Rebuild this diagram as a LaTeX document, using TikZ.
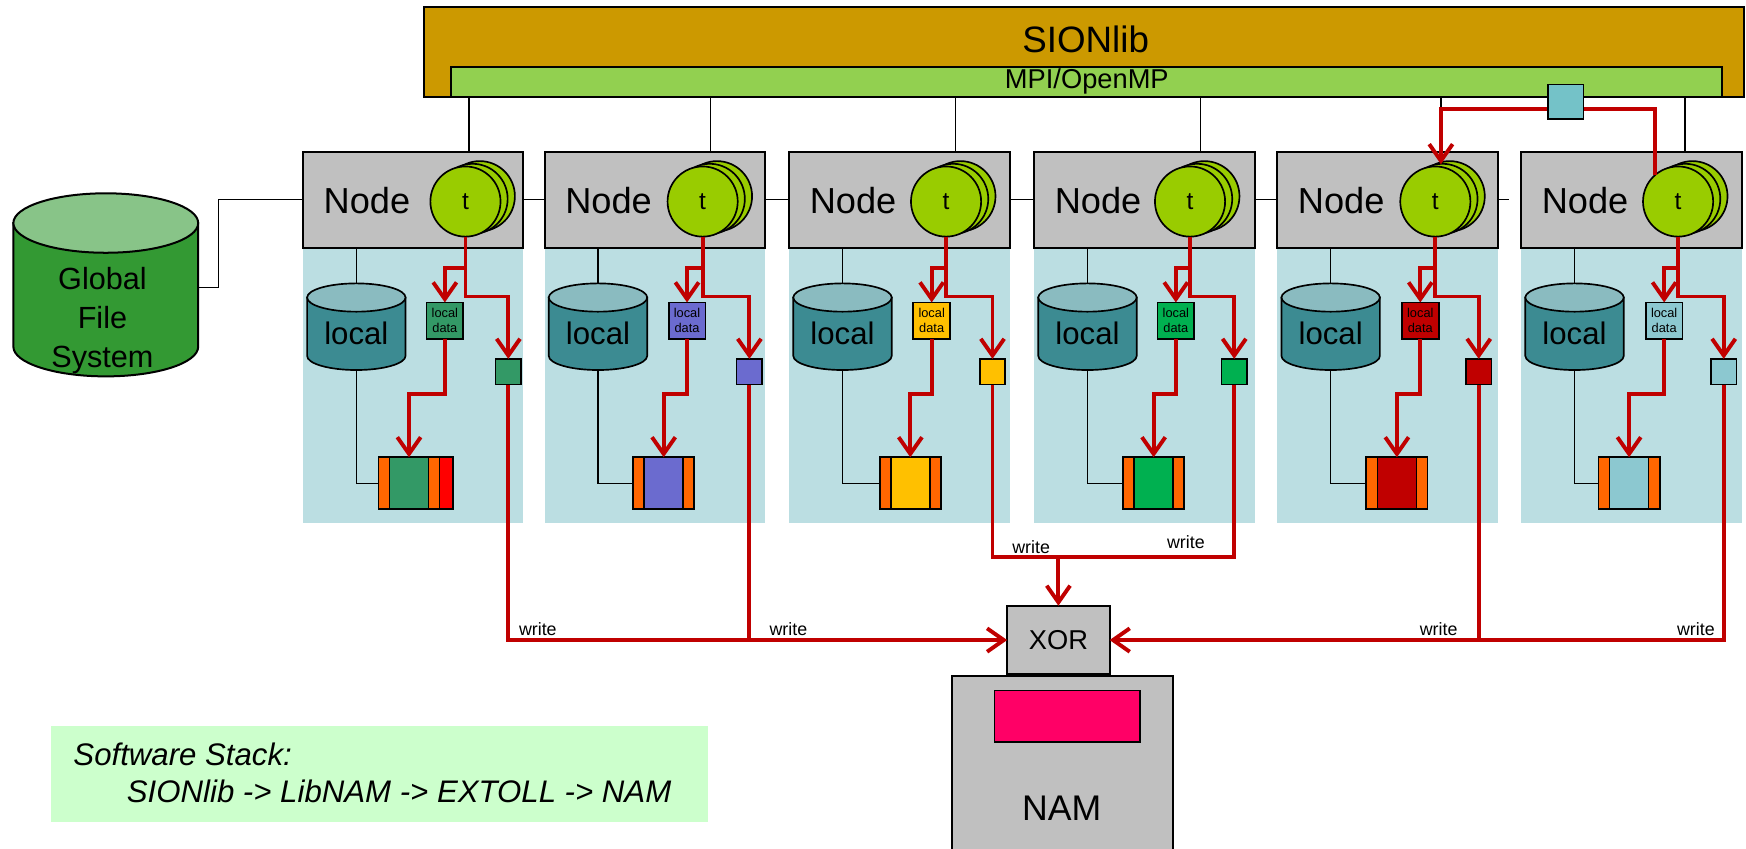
\documentclass[tikz,border=0pt]{standalone}
\usepackage{fontspec}
\setmainfont{Liberation Sans}
\usetikzlibrary{arrows.meta,calc}
\definecolor{sion}{HTML}{CC9900}
\definecolor{mpi}{HTML}{92D050}
\definecolor{nodegray}{HTML}{C0C0C0}
\definecolor{thread}{HTML}{99CC00}
\definecolor{panel}{HTML}{BBDEE2}
\definecolor{lbody}{HTML}{3C8B92}
\definecolor{ltop}{HTML}{8ABBC0}
\definecolor{gbody}{HTML}{339933}
\definecolor{gtop}{HTML}{88C488}
\definecolor{redl}{HTML}{C00000}
\definecolor{strip}{HTML}{FF6600}
\definecolor{pinkc}{HTML}{FF0066}
\definecolor{stackbg}{HTML}{CCFFCC}
\definecolor{cyanbox}{HTML}{74C2C8}
\definecolor{dc1}{HTML}{339966}
\definecolor{dc2}{HTML}{6B6BCF}
\definecolor{dc3}{HTML}{FFC000}
\definecolor{dc4}{HTML}{00B050}
\definecolor{dc5}{HTML}{C00000}
\definecolor{dc6}{HTML}{8CC8D0}
\begin{document}
\begin{tikzpicture}[x=1pt,y=-1pt,
  box/.style={draw=black,line width=1.8pt,inner sep=0pt,outer sep=0pt},
  sbox/.style={draw=black,line width=1.5pt,inner sep=0pt,outer sep=0pt},
  conn/.style={draw=black,line width=1.3pt},
  redline/.style={draw=redl,line width=3.5pt},
  redarrow/.style={redline,-{Straight Barb[length=15pt,width=21pt]}},
  thr/.style={circle,draw=black,line width=1.5pt,fill=thread,minimum size=63pt,inner sep=0pt,outer sep=0pt},
  txt/.style={inner sep=0pt,outer sep=0pt},
  wlab/.style={txt,font=\fontsize{16}{16}\selectfont}]
\useasboundingbox (0,0) rectangle (1568,762);

% top stack
\node[box,fill=sion,minimum width=1185pt,minimum height=81pt,anchor=north west] (sion) at (381,6) {};
\node[txt,font=\fontsize{33}{33}\selectfont] (sionl) at (975,35) {SIONlib};
\node[box,fill=mpi,minimum width=1141pt,minimum height=27pt,anchor=north west] (mpi) at (405,60) {};
\node[txt,font=\fontsize{24.5}{24.5}\selectfont] (mpil) at (976,73.5) {MPI/OpenMP};

% global file system
\draw[line width=1.8pt,fill=gbody] (12,200.3) -- (12,311.3) arc[start angle=180,end angle=0,x radius=83,y radius=26.7] -- (178,200.3) -- cycle;
\draw[line width=1.8pt,fill=gtop] (95,200.3) ellipse[x radius=83,y radius=26.7];
\node[txt,minimum width=166pt,minimum height=160pt] (gfs) at (95,258) {};
\node[txt,align=center,font=\fontsize{27.5}{35}\selectfont] (gfsl) at (92,288) {Global\\File\\System};

\foreach \i/\xo/\cx/\sx/\lx/\bx/\mx in {
  1/272/418/456.5/399.5/367.3/421,
  2/489/631/673/617/596/638,
  3/708.6/849.6/891.3/836.7/817.5/858,
  4/928.6/1068.7/1108.4/1056/1036/1078,
  5/1147/1289/1328/1275.5/1254.5/1294,
  6/1366/1507/1548/1494.5/1463/1513}{
  % panel
  \node[txt,fill=panel,minimum width=198pt,minimum height=246.7pt,anchor=north west] (p\i) at (\xo,222.7) {};
  % node box
  \node[box,fill=nodegray,minimum width=198pt,minimum height=86pt] (n\i) at (\xo+99,179.3) {};
  \coordinate (mx\i) at (\mx,0);
  \draw[conn] (mpi.south -| mx\i) -- (n\i.north -| mx\i);
  \node[txt,font=\fontsize{32.5}{32.5}\selectfont] (nl\i) at (\xo+57.5,180.5) {Node};
  % threads
  \node[thr] (tb\i) at (\cx+12.9,181-4.8) {};
  \node[thr] (tm\i) at (\cx+6.4,181-2.4) {};
  \node[thr,font=\fontsize{22}{22}\selectfont] (t\i) at (\cx,181) {t};
  % local disk
  \draw[line width=1.5pt,fill=lbody] (\xo+3.8,267.2) -- (\xo+3.8,319.6) arc[start angle=180,end angle=0,x radius=44.2,y radius=12.7] -- (\xo+92.2,267.2) -- cycle;
  \draw[line width=1.5pt,fill=ltop] (\xo+48,267.2) ellipse[x radius=44.2,y radius=12.7];
  \node[txt,minimum width=88.4pt,minimum height=77.8pt] (c\i) at (\xo+48,293.4) {};
  \node[txt,font=\fontsize{28}{28}\selectfont] (cl\i) at (\xo+48,299) {local};
  % local data, small box, buffer
  \node[sbox,fill=dc\i,minimum size=33pt,align=center,font=\fontsize{11.5}{13.5}\selectfont] (l\i) at (\lx,288.1) {local\\data};
  \node[sbox,fill=dc\i,minimum size=23pt] (s\i) at (\sx,333.8) {};
  \node[sbox,fill=dc\i,minimum width=35pt,minimum height=46.7pt] (b\i) at (\bx,434) {};
  \node[sbox,fill=strip,minimum width=10pt,minimum height=46.7pt,anchor=east] (bl\i) at (b\i.west) {};
  \node[sbox,fill=strip,minimum width=10pt,minimum height=46.7pt,anchor=west] (br\i) at (b\i.east) {};
  % gray connectors
  \draw[conn] (n\i.south -| c\i.north) -- (c\i.north);
  \draw[conn] (c\i.south) |- (bl\i.west);
  % red flows
  \draw[redarrow] (t\i.south) |- ($(s\i.north)+(0,-56)$) -- (s\i.north);
  \draw[redarrow] ($(t\i.south)+(0,28.5)$) -| (l\i.north);
  \draw[redarrow] (l\i.south) -- ++(0,49) -| (b\i.north);
}
\node[sbox,fill=red,minimum width=12pt,minimum height=46.7pt,anchor=west] (brr1) at (br1.east) {};

% links between nodes
\draw[conn] (gfs.east) -- ++(18,0) |- (n1.west);
\draw[conn] (n1.east) -- (n2.west);
\draw[conn] (n2.east) -- (n3.west);
\draw[conn] (n3.east) -- (n4.west);
\draw[conn] (n4.east) -- (n5.west);
\draw[conn] (n5.east) -- ++(10,0);

% top red exchange
\coordinate (cbw) at (1390,98);
\coordinate (cbe) at (1422,98);
\draw[redarrow] (cbw) -| ($(t5.north)+(5,-2)$);
\draw[redline] (cbe) -| (t6.132);
\node[sbox,fill=cyanbox,minimum width=32pt,minimum height=31pt] (cb) at (1406,91.5) {};

% XOR and NAM
\node[box,fill=nodegray,minimum width=198.5pt,minimum height=180pt,anchor=north] (nam) at (954,606.8) {};
\node[sbox,fill=pinkc,minimum width=131pt,minimum height=46.4pt] (pk) at (958.5,643.2) {};
\node[txt,font=\fontsize{32}{32}\selectfont] (namt) at (953.5,726) {NAM};
\node[box,fill=nodegray,minimum width=92pt,minimum height=61.6pt,font=\fontsize{24.5}{24.5}\selectfont] (xor) at (950.5,574.8) {XOR};

% write network
\draw[redarrow] (s1.south) |- (xor.west);
\draw[redline] (s2.south) -- (s2.south |- xor.west);
\draw[redarrow] (s6.south) |- (xor.east);
\draw[redline] (s5.south) -- (s5.south |- xor.east);
\coordinate (wj) at (950.5,500.5);
\draw[redline] (s3.south) |- (wj) -| (s4.south);
\draw[redarrow] (wj) -- (xor.north);
\node[wlab] (w1) at (483,565) {write};
\node[wlab] (w2) at (708,565) {write};
\node[wlab] (w3) at (926,491) {write};
\node[wlab] (w4) at (1065,487) {write};
\node[wlab] (w5) at (1292,565) {write};
\node[wlab] (w6) at (1523,565) {write};

% software stack
\node[txt,fill=stackbg,minimum width=590pt,minimum height=86pt,anchor=north west] (ss) at (46,652) {};
\node[txt,anchor=west,font=\fontsize{28}{28}\selectfont\itshape] (ss1) at (66,677) {Software Stack:};
\node[txt,anchor=west,font=\fontsize{28}{28}\selectfont\itshape] (ss2) at (114,711) {SIONlib -> LibNAM -> EXTOLL -> NAM};
\end{tikzpicture}
\end{document}
